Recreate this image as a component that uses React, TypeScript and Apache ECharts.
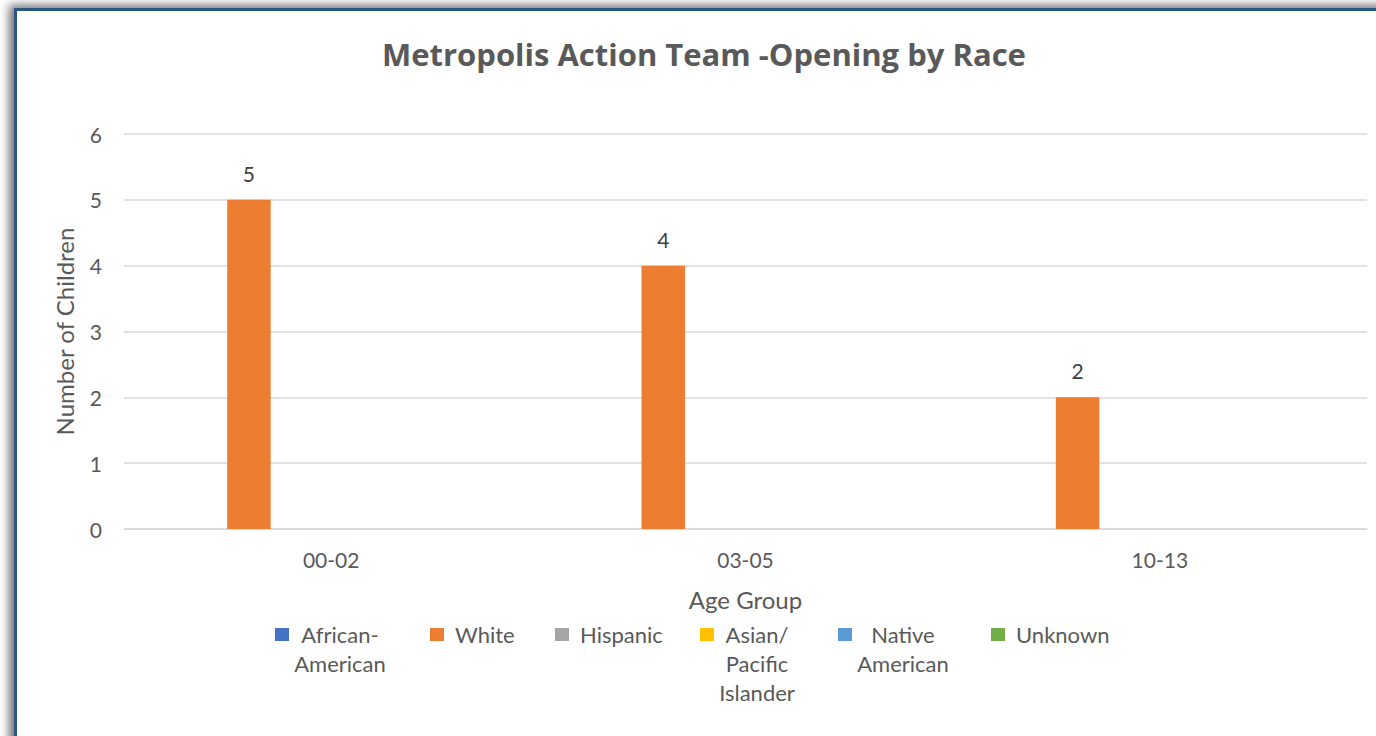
import React, { useEffect, useRef } from "react";
import * as echarts from "echarts";

const titleText = "Metropolis Action Team -Opening by Race";
const categories = ["00-02", "03-05", "10-13"];
const seriesNames = ["African-American", "White", "Hispanic", "Asian/Pacific Islander", "Native American", "Unknown"];
const legendLabels = ["African-\nAmerican", "White", "Hispanic", "Asian/\nPacific\nIslander", "Native\nAmerican", "Unknown"];
const seriesColors = ["#4472C4", "#ED7D31", "#A5A5A5", "#FFC000", "#5B9BD5", "#70AD47"];
const africanAmerican: (number | null)[] = [null, null, null];
const white: (number | null)[] = [5, 4, 2];
const hispanic: (number | null)[] = [null, null, null];
const asianPacific: (number | null)[] = [null, null, null];
const nativeAmerican: (number | null)[] = [null, null, null];
const unknown: (number | null)[] = [null, null, null];
const seriesValues = [africanAmerican, white, hispanic, asianPacific, nativeAmerican, unknown];
const yTicks = [0, 1, 2, 3, 4, 5, 6];

const FONT = "Lato";
const TEXT = "#595959";
const LEGEND_SIZE = 22;

function measure(text: string, font: string): number {
  const c = document.createElement("canvas");
  const ctx = c.getContext("2d");
  if (!ctx) return text.length * 10;
  ctx.font = font;
  return ctx.measureText(text).width;
}

export default function App() {
  const ref = useRef<HTMLDivElement>(null);
  useEffect(() => {
    if (!ref.current) return;
    const chart = echarts.init(ref.current, undefined, { renderer: "svg" });
    const legendLefts = [275, 430, 555, 700, 838, 991];
    const LH = 29;
    const markerTop = 628;
    const legends = seriesNames.map((name, i) => {
      const lines = legendLabels[i].split("\n");
      const n = lines.length;
      const total = n * 2 - 1;
      const base = {
        data: [name],
        left: legendLefts[i],
        top: markerTop + 6.5 - (total * LH) / 2,
        padding: 0,
        icon: "rect",
        itemWidth: 14,
        itemHeight: 13,
      };
      if (n === 1) {
        return {
          ...base,
          formatter: () => lines[0],
          textStyle: { fontFamily: FONT, fontSize: LEGEND_SIZE, color: TEXT, lineHeight: LH, padding: [0, 0, 0, 6] },
        };
      }
      const W = Math.ceil(Math.max(...lines.map((l) => measure(l, `${LEGEND_SIZE}px ${FONT}`))));
      const text = "\n".repeat(n - 1) + lines.map((l) => `{c|${l}}`).join("\n");
      return {
        ...base,
        formatter: () => text,
        textStyle: {
          fontFamily: FONT,
          fontSize: LEGEND_SIZE,
          color: TEXT,
          lineHeight: LH,
          rich: {
            c: { width: W, align: "center", fontFamily: FONT, fontSize: LEGEND_SIZE, color: TEXT, lineHeight: LH },
          },
        },
      };
    });
    chart.setOption({
      animation: false,
      backgroundColor: "#ffffff",
      textStyle: { fontFamily: FONT },
      graphic: [
        {
          type: "rect",
          z: -10,
          silent: true,
          shape: { x: 15.5, y: 9.5, width: 1500, height: 900 },
          style: {
            fill: "#ffffff",
            stroke: "#2B5786",
            lineWidth: 3,
            shadowBlur: 10,
            shadowColor: "rgba(0,0,0,0.55)",
            shadowOffsetX: -5,
            shadowOffsetY: -3,
          },
        },
      ],
      title: {
        text: titleText,
        left: 382,
        top: 35,
        padding: 0,
        textStyle: { fontFamily: "Open Sans", fontSize: 31, fontWeight: "bold", color: TEXT, lineHeight: 38 },
      },
      legend: legends,
      grid: { left: 124, right: 9, top: 134, bottom: 207, containLabel: false },
      xAxis: {
        type: "category",
        data: categories,
        name: "Age Group",
        nameLocation: "middle",
        nameGap: 58,
        nameTextStyle: { fontFamily: FONT, fontSize: 24, color: TEXT },
        axisLine: { show: true, lineStyle: { color: "#D9D9D9", width: 1.5 } },
        axisTick: { show: false },
        axisLabel: { fontFamily: FONT, fontSize: 21, color: TEXT, margin: 20 },
      },
      yAxis: {
        type: "value",
        min: 0,
        max: yTicks[yTicks.length - 1],
        interval: 1,
        name: "Number of Children",
        nameLocation: "middle",
        nameGap: 48,
        nameTextStyle: { fontFamily: FONT, fontSize: 24, color: TEXT },
        axisLine: { show: false },
        axisTick: { show: false },
        axisLabel: { fontFamily: FONT, fontSize: 21, color: TEXT, margin: 22 },
        splitLine: { lineStyle: { color: "#D9D9D9", width: 1.5 } },
      },
      series: seriesNames.map((name, i) => ({
        type: "bar",
        name,
        data: seriesValues[i],
        barWidth: 43.5,
        barGap: "26%",
        itemStyle: { color: seriesColors[i] },
        label: {
          show: true,
          position: "top",
          distance: 16,
          fontFamily: FONT,
          fontSize: 21,
          color: "#404040",
        },
      })),
    });
    return () => chart.dispose();
  }, []);
  return (
    <div style={{ position: "fixed", left: 0, top: 0, width: 1376, height: 736 }}>
      <div ref={ref} style={{ width: 1376, height: 736 }} />
    </div>
  );
}
